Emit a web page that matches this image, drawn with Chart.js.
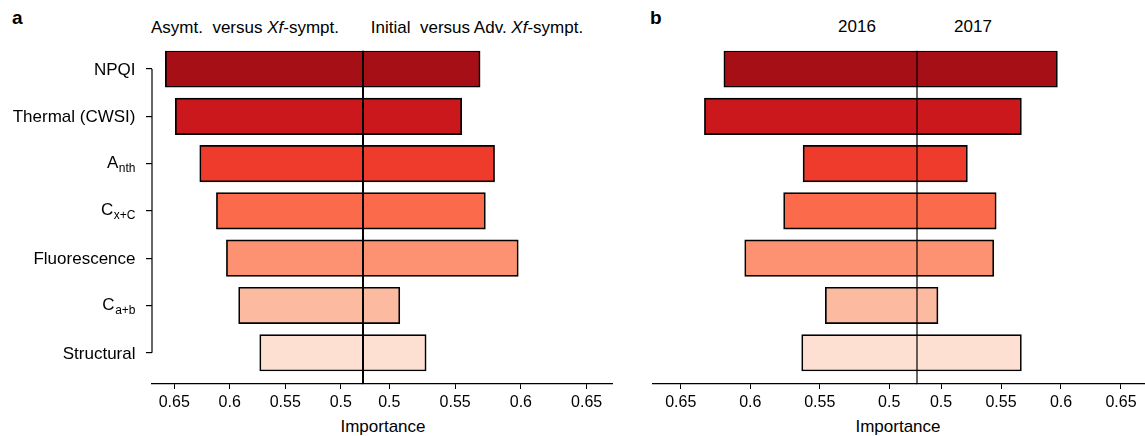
<!DOCTYPE html>
<html><head><meta charset="utf-8">
<script src="https://cdn.jsdelivr.net/npm/chart.js@4.4.1/dist/chart.umd.min.js"></script>
<style>
html,body{margin:0;padding:0;background:#fff;}
body{width:1145px;height:436px;position:relative;overflow:hidden;font-family:"Liberation Sans",Arial,Helvetica,sans-serif;color:#000;}
canvas{position:absolute;top:0;}
.t{position:absolute;font-size:17px;line-height:17px;white-space:pre;transform:translateX(-50%);}
.p{position:absolute;font-size:19px;line-height:19px;font-weight:bold;}
</style></head>
<body>
<div class="p" style="left:12px;top:8px;">a</div>
<div class="p" style="left:650px;top:8px;">b</div>
<div class="t" style="left:245px;top:18.6px;">Asymt.  versus <i>Xf</i>-sympt.</div>
<div class="t" style="left:477px;top:18.6px;">Initial  versus Adv. <i>Xf</i>-sympt.</div>
<div class="t" style="left:857px;top:18.3px;">2016</div>
<div class="t" style="left:973px;top:18.3px;">2017</div>
<div class="t" style="left:383px;top:418px;">Importance</div>
<div class="t" style="left:898px;top:418px;">Importance</div>

<canvas id="aL" width="363" height="436" style="left:0px"></canvas>
<canvas id="aR" width="270" height="436" style="left:343px"></canvas>
<canvas id="bL" width="277" height="436" style="left:640px"></canvas>
<canvas id="bR" width="248" height="436" style="left:897px"></canvas>

<script>
// ---- data ----
const categories = ['NPQI', 'Thermal (CWSI)', 'Anth', 'Cx+C', 'Fluorescence', 'Ca+b', 'Structural'];
const labelMain  = ['NPQI', 'Thermal (CWSI)', 'A', 'C', 'Fluorescence', 'C', 'Structural'];
const labelSub   = ['', '', 'nth', 'x+C', '', 'a+b', ''];
const asymtVsSympt   = [0.658, 0.649, 0.627, 0.612, 0.603, 0.592, 0.573];
const initialVsAdv   = [0.569, 0.555, 0.580, 0.573, 0.598, 0.508, 0.528];
const importance2016 = [0.619, 0.633, 0.562, 0.576, 0.604, 0.546, 0.563];
const importance2017 = [0.597, 0.567, 0.522, 0.546, 0.544, 0.4975, 0.567];
const baseValue = 0.48;
const axisMax = 0.67;
const tickValues = [0.5, 0.55, 0.6, 0.65];
const tickLabels = ['0.5', '0.55', '0.6', '0.65'];

// ---- styling ----
const palette = ['#a50f15', '#cb181d', '#ef3b2c', '#fb6a4a', '#fc9272', '#fcbba1', '#fee0d2'];
const FONT = '"Liberation Sans", Arial, Helvetica, sans-serif';
const yMin = -0.387, yMax = 6.66;

const yLabelPlugin = {
  id: 'ylabels',
  afterDraw(ch) {
    const c = ch.ctx, ys = ch.scales.y, a = ch.chartArea;
    const xr = a.left - 16.5;
    c.save();
    c.fillStyle = '#000';
    c.strokeStyle = '#000';
    c.lineWidth = 1.2;
    c.beginPath();
    c.moveTo(a.left, ys.getPixelForValue(0));
    c.lineTo(a.left, ys.getPixelForValue(categories.length - 1));
    c.stroke();
    c.textAlign = 'right';
    c.textBaseline = 'alphabetic';
    categories.forEach((cat, i) => {
      const y = ys.getPixelForValue(i);
      if (!labelSub[i]) {
        c.font = '17px ' + FONT;
        c.fillText(labelMain[i], xr, y + 6);
      } else {
        c.font = '12px ' + FONT;
        const sw = c.measureText(labelSub[i]).width;
        c.fillText(labelSub[i], xr, y + 8.5);
        c.font = '17px ' + FONT;
        c.fillText(labelMain[i], xr - sw - 0.5, y + 4.5);
      }
    });
    c.restore();
  }
};

function makeHalf(id, values, o) {
  const plugins = [];
  if (o.centerLine) {
    plugins.push({
      id: 'center',
      afterDatasetsDraw(ch) {
        const c = ch.ctx, a = ch.chartArea;
        const x = ch.scales.x.getPixelForValue(baseValue);
        c.save();
        c.strokeStyle = '#000';
        c.lineWidth = o.centerLine;
        c.beginPath();
        c.moveTo(x, a.top);
        c.lineTo(x, a.bottom);
        c.stroke();
        c.restore();
      }
    });
  }
  if (o.yLabels) plugins.push(yLabelPlugin);
  return new Chart(document.getElementById(id), {
    type: 'bar',
    data: {
      datasets: [{
        data: values.map((v, i) => ({ x: [baseValue, v], y: i })),
        backgroundColor: palette,
        borderColor: '#000',
        borderWidth: 1.7,
        borderSkipped: 'start',
        barThickness: 36.5
      }]
    },
    options: {
      indexAxis: 'y',
      responsive: false,
      animation: false,
      events: [],
      layout: { padding: { top: 50.7, left: o.padLeft, right: 0, bottom: 0 } },
      plugins: { legend: { display: false }, tooltip: { enabled: false } },
      scales: {
        x: {
          type: 'linear', reverse: o.reverse, min: baseValue, max: axisMax, bounds: 'data', offset: false,
          afterBuildTicks: s => { s.ticks = tickValues.map(v => ({ value: v })); },
          afterFit: s => { s.height = 52; },
          grid: { display: true, offset: false, drawOnChartArea: false, drawTicks: true, tickLength: 5, color: '#000', lineWidth: 1 },
          border: { display: true, color: '#000', width: 1.2 },
          ticks: { autoSkip: false, maxRotation: 0, padding: 4, color: '#000',
                   font: { family: FONT, size: 16 }, callback: (v, i) => tickLabels[i] }
        },
        y: {
          type: 'linear', reverse: true, min: yMin, max: yMax, bounds: 'data', display: o.yAxis, offset: false,
          afterBuildTicks: s => { s.ticks = categories.map((c, i) => ({ value: i })); },
          afterFit: s => { s.width = o.yWidth || 0; },
          grid: { display: true, offset: false, drawOnChartArea: false, drawTicks: true, tickLength: 6, color: '#000', lineWidth: 1.2 },
          border: { display: false },
          ticks: { display: false }
        }
      }
    },
    plugins
  });
}

makeHalf('aL', asymtVsSympt, { reverse: true, padLeft: 0, yAxis: true, yWidth: 152, yLabels: true });
makeHalf('aR', initialVsAdv, { reverse: false, padLeft: 20, yAxis: false, centerLine: 2 });
makeHalf('bL', importance2016, { reverse: true, padLeft: 13, yAxis: false });
makeHalf('bR', importance2017, { reverse: false, padLeft: 20, yAxis: false, centerLine: 1.2 });
</script>
</body></html>
